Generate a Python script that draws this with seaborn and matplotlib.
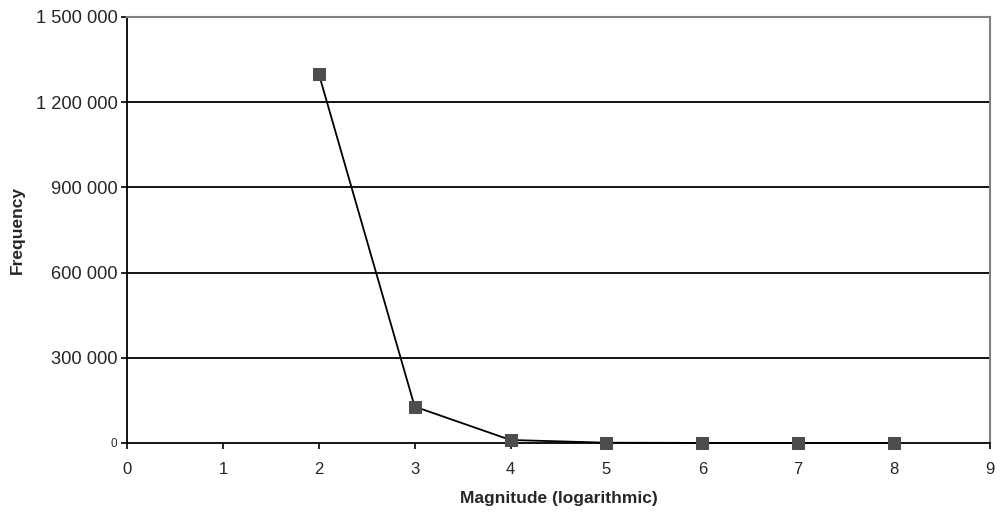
import matplotlib
matplotlib.use('Agg')
import matplotlib.pyplot as plt
import seaborn as sns
import pandas as pd

# values
magnitude = [2, 3, 4, 5, 6, 7, 8]
frequency = [1300000, 128000, 10500, 1000, 200, 50, 10]

y_ticks = [0, 300000, 600000, 900000, 1200000, 1500000]
y_labels = ["0", "300 000", "600 000", "900 000", "1 200 000", "1 500 000"]
x_ticks = list(range(0, 10))

sns.set_style("white")
plt.rcParams['font.family'] = ['Liberation Sans', 'DejaVu Sans']

df = pd.DataFrame({"Magnitude": magnitude, "Frequency": frequency})

fig = plt.figure(figsize=(10.01, 5.13), dpi=100)
ax = fig.add_axes([0.1269, 0.1365, 0.989 - 0.1269, 0.9669 - 0.1365])

sns.lineplot(data=df, x="Magnitude", y="Frequency", ax=ax, color="black",
             linewidth=1.3, marker="s", markersize=8,
             markerfacecolor="#4d4d4d", markeredgecolor="#4d4d4d",
             zorder=5, clip_on=False)

ax.set_xlim(0, 9)
ax.set_ylim(0, 1500000)
ax.set_yticks(y_ticks)
ax.set_yticklabels(y_labels, fontsize=13.2)
ax.set_xticks(x_ticks)
ax.set_xticklabels([str(t) for t in x_ticks], fontsize=12)
ax.get_yticklabels()[0].set_fontsize(8.5)

for y in y_ticks[1:-1]:
    ax.axhline(y, color="black", linewidth=1.3, zorder=1)

ax.spines['left'].set_color("black")
ax.spines['bottom'].set_color("black")
ax.spines['left'].set_linewidth(1.3)
ax.spines['bottom'].set_linewidth(1.3)
ax.spines['top'].set_color("#808080")
ax.spines['right'].set_color("#808080")
ax.spines['top'].set_linewidth(1.5)
ax.spines['right'].set_linewidth(1.5)

ax.tick_params(axis='both', which='major', direction='out', length=4,
               width=1.2, color="black", left=True, bottom=True)
ax.tick_params(axis='x', pad=10)
ax.tick_params(axis='y', pad=3)

ax.set_xlabel("Magnitude (logarithmic)", fontsize=12.5, fontweight="bold", labelpad=10)
ax.set_ylabel("Frequency", fontsize=12.5, fontweight="bold", labelpad=8)

fig.savefig("out.png", dpi=100)
